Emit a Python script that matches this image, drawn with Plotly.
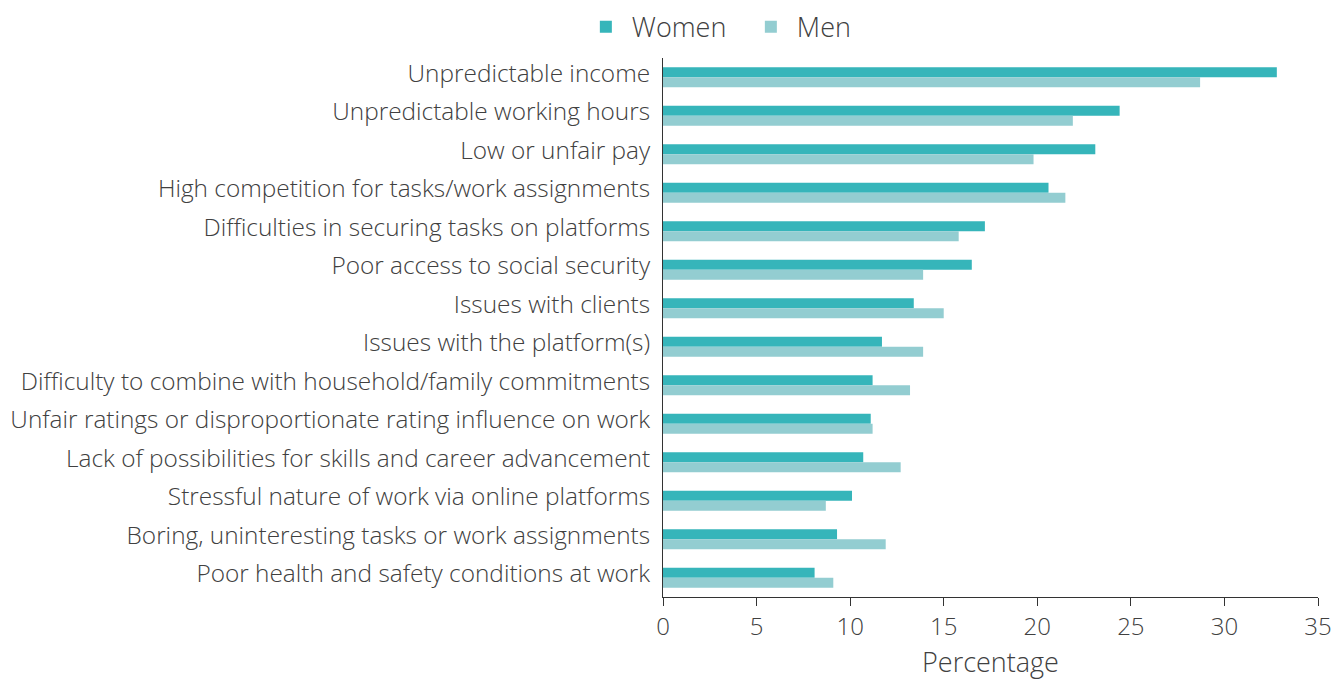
import plotly.graph_objects as go

categories = [
    "Unpredictable income",
    "Unpredictable working hours",
    "Low or unfair pay",
    "High competition for tasks/work assignments",
    "Difficulties in securing tasks on platforms",
    "Poor access to social security",
    "Issues with clients",
    "Issues with the platform(s)",
    "Difficulty to combine with household/family commitments",
    "Unfair ratings or disproportionate rating influence on work",
    "Lack of possibilities for skills and career advancement",
    "Stressful nature of work via online platforms",
    "Boring, uninteresting tasks or work assignments",
    "Poor health and safety conditions at work",
]
women = [32.8, 24.4, 23.1, 20.6, 17.2, 16.5, 13.4, 11.7, 11.2, 11.1, 10.7, 10.1, 9.3, 8.1]
men = [28.7, 21.9, 19.8, 21.5, 15.8, 13.9, 15.0, 13.9, 13.2, 11.2, 12.7, 8.7, 11.9, 9.1]
x_ticks = [0, 5, 10, 15, 20, 25, 30, 35]

FONT = "Open Sans"
TXT = "#404040"

fig = go.Figure()
fig.add_trace(go.Bar(y=categories, x=women, name="Women", orientation="h",
                     marker=dict(color="#36B5BA", line=dict(width=0))))
fig.add_trace(go.Bar(y=categories, x=men, name="Men", orientation="h",
                     marker=dict(color="#93CDD1", line=dict(width=0))))

fig.update_layout(
    width=1333, height=680,
    margin=dict(l=663, r=15, t=58, b=83, autoexpand=False),
    paper_bgcolor="white", plot_bgcolor="white",
    font=dict(family=FONT, size=24, color=TXT, weight=300),
    barmode="group", bargap=0.48, bargroupgap=0,
    showlegend=True,
    legend=dict(orientation="h", x=0.435, xref="container", xanchor="left",
                y=0.96, yanchor="middle", yref="container",
                font=dict(size=27, color=TXT, weight=300), itemsizing="constant",
                itemwidth=42, entrywidth=108, traceorder="normal"),
    xaxis=dict(range=[0, 35], tickvals=x_ticks, showgrid=False, zeroline=False,
               automargin=False,
               showline=True, linecolor="#333333", linewidth=1,
               ticks="outside", ticklen=8, tickcolor="#333333",
               tickfont=dict(size=24, color=TXT, weight=300),
               title=dict(text="Percentage", font=dict(size=27, color=TXT, weight=300), standoff=13)),
    yaxis=dict(autorange="reversed", showgrid=False, zeroline=False,
               automargin=False,
               showline=True, linecolor="#333333", linewidth=1,
               ticks="", ticklabelstandoff=7, ticklabelshift=4,
               tickfont=dict(size=24.4, color=TXT, weight=300)),
)

fig.write_html("out.html", config={"displayModeBar": False},
               post_script="document.body.style.margin='0';document.body.style.overflow='hidden';")
